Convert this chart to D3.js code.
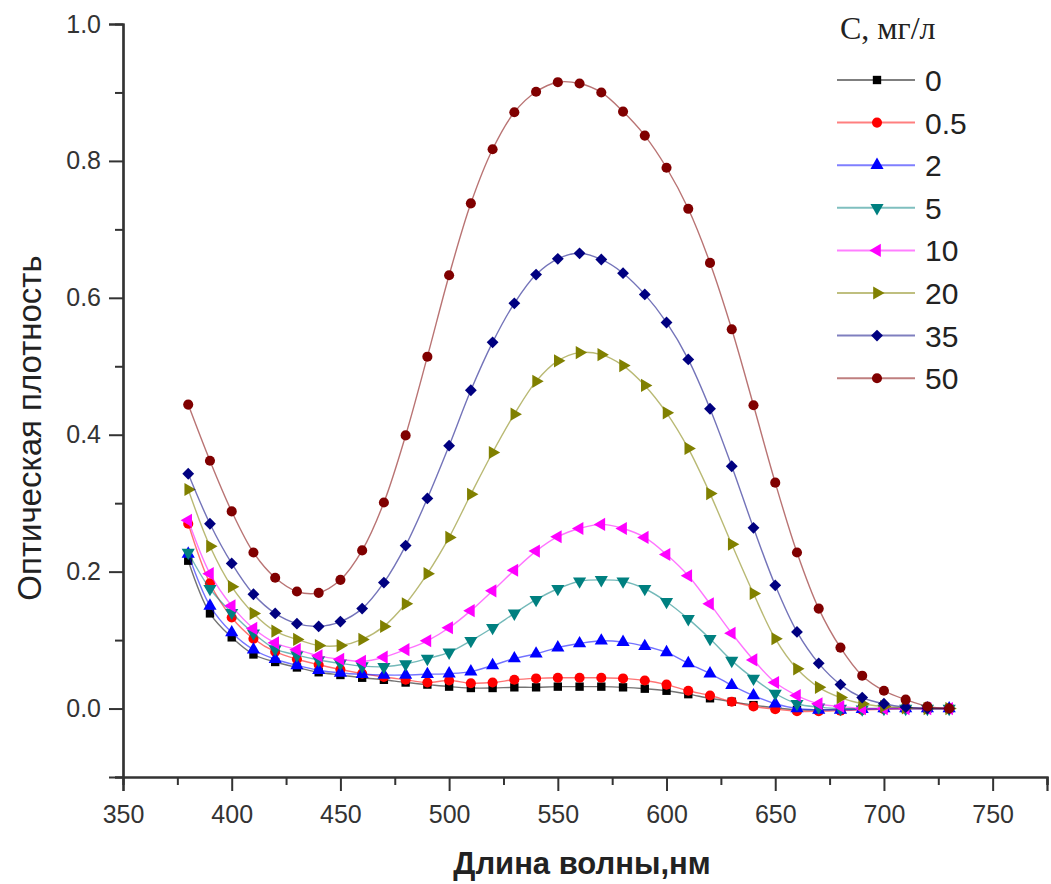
<!DOCTYPE html>
<html>
<head>
<meta charset="utf-8">
<script src="https://cdn.jsdelivr.net/npm/d3@7"></script>
<style>
  body { margin: 0; background: #fff; }
  svg { display: block; }
  .tick text { font-family: "Liberation Sans", Arial, sans-serif; fill: #333; }
</style>
</head>
<body>
<svg id="chart" width="1051" height="884"></svg>
<script>
// wavelengths, nm
var wavelengths = [380, 390, 400, 410, 420, 430, 440, 450, 460, 470, 480, 490, 500, 510, 520, 530, 540, 550,
                   560, 570, 580, 590, 600, 610, 620, 630, 640, 650, 660, 670, 680, 690, 700, 710, 720, 730]

// concentrations (legend)
var concLabels = ["0", "0.5", "2", "5", "10", "20", "35", "50"]

// optical density per concentration
var od0  = [0.216, 0.139, 0.104, 0.079, 0.068, 0.060, 0.053, 0.049, 0.045, 0.042, 0.038, 0.035, 0.032, 0.030, 0.030, 0.031, 0.031, 0.032,
            0.032, 0.032, 0.031, 0.029, 0.026, 0.021, 0.015, 0.010, 0.005, 0.001, -0.002, -0.002, -0.001, 0.000, 0.000, 0.000, 0.000, 0.000]
var od05 = [0.270, 0.183, 0.133, 0.102, 0.083, 0.072, 0.064, 0.057, 0.051, 0.046, 0.042, 0.038, 0.041, 0.037, 0.038, 0.042, 0.044, 0.045,
            0.045, 0.045, 0.044, 0.041, 0.035, 0.026, 0.019, 0.010, 0.003, -0.001, -0.004, -0.004, -0.003, -0.002, -0.001, 0.000, 0.000, 0.000]
var od2  = [0.226, 0.150, 0.111, 0.086, 0.072, 0.063, 0.056, 0.052, 0.050, 0.049, 0.049, 0.050, 0.051, 0.054, 0.063, 0.073, 0.080, 0.089,
            0.095, 0.099, 0.097, 0.091, 0.082, 0.066, 0.051, 0.034, 0.019, 0.007, 0.000, -0.002, -0.002, -0.001, 0.000, 0.000, 0.000, 0.000]
var od5  = [0.228, 0.175, 0.140, 0.110, 0.087, 0.078, 0.071, 0.066, 0.062, 0.061, 0.065, 0.073, 0.082, 0.099, 0.118, 0.139, 0.159, 0.175,
            0.186, 0.188, 0.186, 0.175, 0.156, 0.131, 0.102, 0.070, 0.044, 0.022, 0.007, 0.002, 0.000, -0.001, 0.000, 0.000, 0.000, 0.000]
var od10 = [0.275, 0.197, 0.150, 0.117, 0.096, 0.086, 0.077, 0.072, 0.069, 0.075, 0.086, 0.099, 0.118, 0.143, 0.172, 0.202, 0.230, 0.251,
            0.263, 0.269, 0.263, 0.250, 0.225, 0.194, 0.153, 0.110, 0.071, 0.038, 0.019, 0.007, 0.003, 0.000, 0.000, 0.000, 0.000, 0.000]
var od20 = [0.320, 0.237, 0.178, 0.139, 0.113, 0.101, 0.092, 0.092, 0.101, 0.120, 0.153, 0.197, 0.250, 0.313, 0.374, 0.430, 0.478, 0.508,
            0.520, 0.517, 0.501, 0.472, 0.432, 0.380, 0.314, 0.240, 0.168, 0.102, 0.058, 0.031, 0.016, 0.007, 0.003, 0.001, 0.000, 0.000]
var od35 = [0.343, 0.270, 0.212, 0.167, 0.139, 0.124, 0.120, 0.127, 0.146, 0.184, 0.238, 0.307, 0.384, 0.465, 0.535, 0.592, 0.634, 0.657,
            0.665, 0.656, 0.636, 0.605, 0.564, 0.510, 0.438, 0.354, 0.264, 0.180, 0.112, 0.066, 0.035, 0.016, 0.007, 0.002, 0.000, 0.000]
var od50 = [0.444, 0.362, 0.288, 0.228, 0.191, 0.171, 0.169, 0.188, 0.231, 0.301, 0.399, 0.514, 0.633, 0.738, 0.817, 0.871, 0.901, 0.915,
            0.913, 0.900, 0.872, 0.837, 0.790, 0.730, 0.651, 0.554, 0.443, 0.330, 0.228, 0.146, 0.089, 0.048, 0.026, 0.013, 0.003, 0.000]

var xMajor = [350, 400, 450, 500, 550, 600, 650, 700, 750]
var xMinor = [375, 425, 475, 525, 575, 625, 675, 725, 775]
var yMajor = [0.0, 0.2, 0.4, 0.6, 0.8, 1.0]
var yMinor = [-0.1, 0.1, 0.3, 0.5, 0.7, 0.9]

var seriesValues = [od0, od05, od2, od5, od10, od20, od35, od50]
var colors = ["#000000", "#ff0000", "#0000ff", "#008080", "#ff00ff", "#808000", "#000080", "#800000"]
// marker: symbol type + rotation
var markers = [
    {type: d3.symbolSquare, rot: 0, size: 70},
    {type: d3.symbolCircle, rot: 0, size: 80},
    {type: d3.symbolTriangle, rot: 0, size: 75},
    {type: d3.symbolTriangle, rot: 180, size: 75},
    {type: d3.symbolTriangle, rot: -90, size: 75},
    {type: d3.symbolTriangle, rot: 90, size: 75},
    {type: d3.symbolSquare, rot: 45, size: 70},
    {type: d3.symbolCircle, rot: 0, size: 80}
]

var svg = d3.select("#chart")

var x = d3.scaleLinear().domain([350, 775]).range([123, 1047])
var y = d3.scaleLinear().domain([-0.1, 1.0]).range([777, 24])

// axes
var gx = svg.append("g").attr("transform", "translate(0," + y(-0.1) + ")")
gx.call(d3.axisBottom(x).tickValues(xMajor).tickSize(14).tickPadding(14).tickFormat(d3.format("d")))
gx.append("g").call(d3.axisBottom(x).tickValues(xMinor).tickSize(8).tickFormat(""))

var gy = svg.append("g").attr("transform", "translate(" + x(350) + ",0)")
gy.call(d3.axisLeft(y).tickValues(yMajor).tickSize(14).tickPadding(8).tickFormat(d3.format(".1f")))
gy.append("g").call(d3.axisLeft(y).tickValues(yMinor).tickSize(8).tickFormat(""))

svg.selectAll(".domain").attr("stroke", "#333").attr("stroke-width", 2.2)
svg.selectAll(".tick line").attr("stroke", "#333").attr("stroke-width", 2)
svg.selectAll(".tick text").style("font-size", "25px")

// axis titles
svg.append("text")
    .attr("transform", "translate(41," + 428 + ") rotate(-90)")
    .attr("text-anchor", "middle")
    .style("font-family", "Liberation Sans, Arial, sans-serif")
    .style("font-size", "33px")
    .style("fill", "#222")
    .text("Оптическая плотность")

svg.append("text")
    .attr("x", 582)
    .attr("y", 874)
    .attr("text-anchor", "middle")
    .style("font-family", "Liberation Sans, Arial, sans-serif")
    .style("font-size", "31px")
    .style("font-weight", "bold")
    .style("fill", "#222")
    .text("Длина волны,нм")

// curves
var line = d3.line()
    .x(function(d) { return x(d[0]) })
    .y(function(d) { return y(d[1]) })
    .curve(d3.curveCatmullRom)

function symbolPath(m) {
    return d3.symbol().type(m.type).size(m.size)()
}

seriesValues.forEach(function(vals, i) {
    var pts = wavelengths.map(function(w, j) { return [w, vals[j]] })
    var g = svg.append("g")
    g.append("path")
        .datum(pts)
        .attr("d", line)
        .attr("fill", "none")
        .attr("stroke", colors[i])
        .attr("stroke-opacity", 0.55)
        .attr("stroke-width", 1.4)
    g.selectAll("path.pt")
        .data(pts)
        .enter().append("path")
        .attr("class", "pt")
        .attr("d", symbolPath(markers[i]))
        .attr("transform", function(d) { return "translate(" + x(d[0]) + "," + y(d[1]) + ") rotate(" + markers[i].rot + ")" })
        .attr("fill", colors[i])
})

// legend
var legend = svg.append("g").attr("transform", "translate(837,0)")
legend.append("text")
    .attr("x", 3)
    .attr("y", 39)
    .style("font-family", "Liberation Serif, Times New Roman, serif")
    .style("font-size", "32px")
    .style("fill", "#222")
    .text("С, мг/л")

concLabels.forEach(function(lab, i) {
    var cy = 80 + i * 42.6
    legend.append("line")
        .attr("x1", 0).attr("x2", 78)
        .attr("y1", cy).attr("y2", cy)
        .attr("stroke", colors[i])
        .attr("stroke-opacity", 0.5)
        .attr("stroke-width", 2)
    legend.append("path")
        .attr("d", symbolPath(markers[i]))
        .attr("transform", "translate(40," + cy + ") rotate(" + markers[i].rot + ")")
        .attr("fill", colors[i])
    legend.append("text")
        .attr("x", 88)
        .attr("y", cy + 11)
        .style("font-family", "Liberation Sans, Arial, sans-serif")
        .style("font-size", "30px")
        .style("fill", "#222")
        .text(lab)
})
</script>
</body>
</html>
